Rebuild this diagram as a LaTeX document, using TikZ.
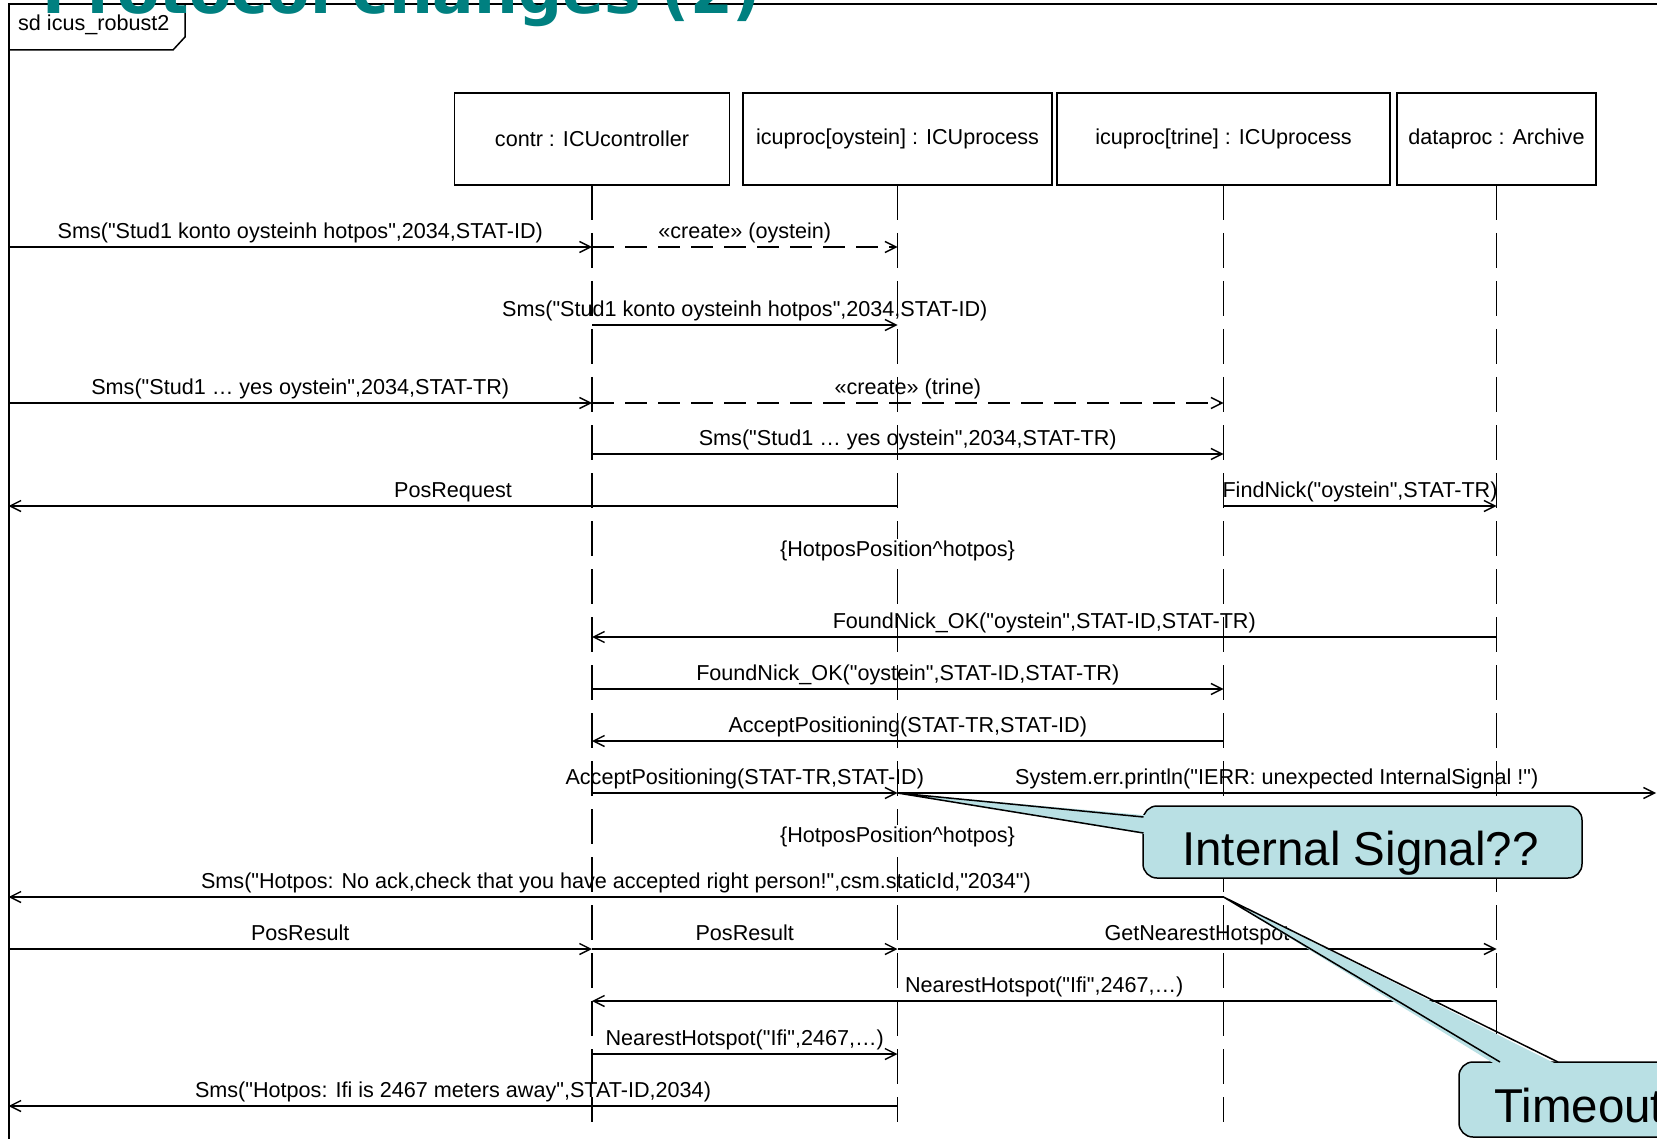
\documentclass[tikz,border=0pt]{standalone}
\usepackage{fontspec}
% label face without TeX ligatures, so straight double quotes stay straight
\newfontfamily\lblfont{Liberation Sans}
\newfontfamily\titlefont{DejaVu Sans}
\usetikzlibrary{arrows.meta}
\definecolor{titleteal}{RGB}{0,128,128}
\definecolor{calloutfill}{RGB}{185,224,228}

\begin{document}
\begin{tikzpicture}[x=1pt,y=-1pt,
  lbl/.style={font=\lblfont\fontsize{21.6}{26}\selectfont, inner sep=0pt},
  msgtext/.style={lbl, midway, anchor=base, yshift=8.5pt},
  msg/.style={line width=1.4pt, -{Straight Barb[length=11pt,width=11pt,line width=1.4pt]}},
  create/.style={msg, dash pattern=on 22pt off 11pt},
  lifeline/.style={line width=1.3pt, dash pattern=on 35pt off 13pt},
  objbox/.style={draw, line width=1.4pt, lbl, minimum height=92pt, outer sep=0pt},
  statetext/.style={lbl, fill=white, inner sep=2pt},
  callout/.style={fill=calloutfill, draw=black, line width=1.5pt, rounded corners=14pt},
  wedge/.style={draw=black, line width=1.5pt},
  calltext/.style={font=\lblfont\fontsize{47.5}{56}\selectfont, inner sep=0pt, anchor=base},
]
\useasboundingbox (0,0) rectangle (1657,1139);
\clip (0,0) rectangle (1657,1139);
\fill[white] (0,0) rectangle (1657,1139);

% diagram frame and its name tab
\draw[line width=2pt] (8.5,1200) -- (8.5,4) -- (1700,4);
\draw[line width=1.5pt] (8.5,50) -- (173,50) -- (185,37) -- (185,4);
\node[lbl, anchor=base west] (sdname) at (18,31) {sd icus\_robust2};

% environment edges
\coordinate (env) at (8.5,0);
\coordinate (envR) at (1656,0);

% lifeline heads
\node[objbox, minimum width=275pt] (contr) at (592,139) {contr : ICUcontroller};
\node[objbox, minimum width=309pt] (oyst) at (897.5,139) {icuproc[oystein] : ICUprocess};
\node[objbox, minimum width=333pt] (trine) at (1223.5,139) {icuproc[trine] : ICUprocess};
\node[objbox, minimum width=199pt] (arch) at (1496.5,139) {dataproc : Archive};

% lifelines
\foreach \n in {contr,oyst,trine,arch}
  \draw[lifeline] (\n.south) -- (\n.south |- 0,1122);

% messages
\draw[msg] (env |- 0,247) -- (contr.south |- 0,247)
  node[msgtext] {Sms("Stud1 konto oysteinh hotpos",2034,STAT-ID)};
\draw[create] (contr.south |- 0,247) -- (oyst.south |- 0,247)
  node[msgtext] {«create» (oystein)};
\draw[msg] (contr.south |- 0,325) -- (oyst.south |- 0,325)
  node[msgtext] {Sms("Stud1 konto oysteinh hotpos",2034,STAT-ID)};
\draw[msg] (env |- 0,403) -- (contr.south |- 0,403)
  node[msgtext] {Sms("Stud1 … yes oystein",2034,STAT-TR)};
\draw[create] (contr.south |- 0,403) -- (trine.south |- 0,403)
  node[msgtext] {«create» (trine)};
\draw[msg] (contr.south |- 0,454) -- (trine.south |- 0,454)
  node[msgtext] {Sms("Stud1 … yes oystein",2034,STAT-TR)};
\draw[msg] (oyst.south |- 0,506) -- (env |- 0,506)
  node[msgtext] {PosRequest};
\draw[msg] (trine.south |- 0,506) -- (arch.south |- 0,506)
  node[msgtext] {FindNick("oystein",STAT-TR)};
\node[statetext] (state1) at (oyst.south |- 0,551) {\{HotposPosition\textasciicircum hotpos\}};
\draw[msg] (arch.south |- 0,637) -- (contr.south |- 0,637)
  node[msgtext] {FoundNick\_OK("oystein",STAT-ID,STAT-TR)};
\draw[msg] (contr.south |- 0,689) -- (trine.south |- 0,689)
  node[msgtext] {FoundNick\_OK("oystein",STAT-ID,STAT-TR)};
\draw[msg] (trine.south |- 0,741) -- (contr.south |- 0,741)
  node[msgtext] {AcceptPositioning(STAT-TR,STAT-ID)};
\draw[msg] (contr.south |- 0,793) -- (oyst.south |- 0,793)
  node[msgtext] {AcceptPositioning(STAT-TR,STAT-ID)};
\draw[msg] (oyst.south |- 0,793) -- (envR |- 0,793)
  node[msgtext] {System.err.println("IERR: unexpected InternalSignal !")};
\node[statetext] (state2) at (oyst.south |- 0,837) {\{HotposPosition\textasciicircum hotpos\}};
\draw[msg] (trine.south |- 0,897) -- (env |- 0,897)
  node[msgtext] {Sms("Hotpos: No ack,check that you have accepted right person!",csm.staticId,"2034")};
\draw[msg] (env |- 0,949) -- (contr.south |- 0,949)
  node[msgtext] {PosResult};
\draw[msg] (contr.south |- 0,949) -- (oyst.south |- 0,949)
  node[msgtext] {PosResult};
\draw[msg] (oyst.south |- 0,949) -- (arch.south |- 0,949)
  node[msgtext] {GetNearestHotspot};
\draw[msg] (arch.south |- 0,1001) -- (contr.south |- 0,1001)
  node[msgtext] {NearestHotspot("Ifi",2467,…)};
\draw[msg] (contr.south |- 0,1054) -- (oyst.south |- 0,1054)
  node[msgtext] {NearestHotspot("Ifi",2467,…)};
\draw[msg] (oyst.south |- 0,1106) -- (env |- 0,1106)
  node[msgtext] {Sms("Hotpos: Ifi is 2467 meters away",STAT-ID,2034)};

% callout: internal signal
\coordinate (tipA) at (oyst.south |- 0,793);
\node[callout, minimum width=439pt, minimum height=72pt, inner sep=0pt] (calloutA) at (1362.5,842) {};
\fill[calloutfill] (tipA) -- (1148,815.5) -- (1148,834.5) -- cycle;
\draw[wedge] (1143.5,817) -- (tipA) -- (1143.5,833);
\node[calltext] (calloutAtext) at (1360.5,865) {Internal Signal??};

% callout: timeout
\coordinate (tipB) at (trine.south |- 0,897);
\node[callout, minimum width=261pt, minimum height=75pt, inner sep=0pt] (calloutB) at (1589.5,1099.5) {};
\fill[calloutfill] (tipB) -- (1498,1066) -- (1560,1066) -- cycle;
\draw[wedge] (1500,1062) -- (tipB) -- (1558,1062);
\node[calltext, anchor=base west] (calloutBtext) at (1494,1122) {Timeout};

% slide heading, cut by the top edge
\node[font={\titlefont\bfseries\fontsize{61.5}{70}\selectfont}, text=titleteal,
  anchor=base west, inner sep=0pt] (heading) at (42,14) {Protocol changes (2)};
\end{tikzpicture}
\end{document}
